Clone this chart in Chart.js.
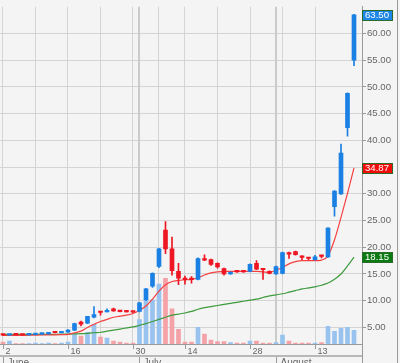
<!DOCTYPE html>
<html>
<head>
<meta charset="utf-8">
<script src="https://cdn.jsdelivr.net/npm/chart.js@4.4.0/dist/chart.umd.min.js"></script>
<style>
    html, body { margin: 0; padding: 0; background: #f4f4f4; }
    #wrap { width: 400px; height: 363px; }
</style>
</head>
<body>
<div id="wrap"><canvas id="stockChart" width="400" height="363"></canvas></div>
<script>
// day of month for each trading session
const dayOfMonth = [2, 3, 4, 5, 6, 9, 10, 11, 12, 13, 16, 17, 18, 19, 20, 23, 24, 25, 26, 27, 30,
    1, 2, 3, 7, 8, 9, 10, 14, 15, 16, 17, 18, 21, 22, 23, 24, 25, 28, 29, 30, 31,
    1, 4, 5, 6, 7, 8, 13, 14, 15, 18, 19, 20, 21];

// month labels and the session where each month starts
const monthNames = ['June', 'July', 'August'];
const monthStart = [0, 21, 42];

// weekly grid lines, labelled ticks every second week
const weekStart = [0, 5, 10, 15, 20, 24, 28, 33, 38, 43, 48];
const labelTicks = [0, 10, 20, 28, 38, 48];

// price axis ticks
const priceTicks = [5, 10, 15, 20, 25, 30, 35, 40, 45, 50, 55, 60];

// OHLC
const open = [3.6, 3.55, 3.65, 3.6, 3.6, 3.65, 3.75, 3.8, 4.1, 4.0,
    4.1, 4.5, 6.0, 5.8, 6.9, 8.0, 7.9, 8.5, 8.1, 8.0,
    7.95, 8.0, 10.2, 12.7, 16.4, 23.2, 19.7, 15.5, 14.2, 14.1,
    14.0, 17.8, 17.7, 17.0, 16.0, 15.0, 15.5, 15.5, 15.5, 17.0,
    15.9, 15.5, 15.0, 15.1, 19.0, 19.2, 18.3, 18.0, 17.7, 18.4,
    18.2, 27.6, 30.0, 42.4, 55.0];
const high = [3.7, 3.7, 3.7, 3.65, 3.7, 3.75, 3.8, 4.1, 4.15, 4.2,
    4.6, 5.8, 6.2, 7.1, 8.9, 8.0, 8.5, 8.6, 8.1, 8.0,
    7.95, 9.7, 12.3, 15.2, 19.8, 24.8, 21.9, 17.0, 14.6, 14.5,
    18.0, 18.6, 17.8, 17.1, 16.1, 15.4, 15.6, 15.6, 16.9, 17.5,
    16.0, 15.6, 16.5, 19.1, 19.1, 19.3, 18.4, 18.1, 18.5, 18.5,
    23.7, 30.6, 39.3, 48.9, 63.6];
const low = [3.5, 3.5, 3.55, 3.55, 3.55, 3.6, 3.7, 3.75, 3.95, 3.95,
    4.05, 4.4, 5.3, 5.7, 6.8, 7.3, 7.9, 8.0, 7.9, 7.85,
    7.8, 7.9, 10.0, 12.5, 16.2, 18.8, 14.8, 13.0, 13.1, 13.3,
    13.9, 17.5, 16.6, 16.1, 14.8, 14.9, 15.3, 15.3, 15.4, 15.8,
    14.0, 15.0, 14.9, 15.0, 17.9, 18.5, 17.7, 17.7, 17.6, 18.0,
    18.1, 25.8, 29.9, 40.8, 54.0];
const close = [3.55, 3.65, 3.6, 3.58, 3.65, 3.75, 3.8, 4.1, 4.0, 4.2,
    4.5, 5.7, 5.6, 7.1, 7.4, 7.8, 8.0, 8.1, 7.95, 7.9,
    7.85, 9.6, 12.2, 15.1, 19.7, 19.7, 15.6, 14.2, 13.95, 13.95,
    17.9, 17.6, 16.8, 16.3, 15.0, 15.3, 15.4, 15.4, 16.8, 15.9,
    15.8, 15.1, 16.4, 19.0, 18.7, 18.6, 18.1, 17.9, 18.2, 18.3,
    23.6, 30.5, 37.6, 48.8, 63.5];

// volume (millions)
const volume = [0.2, 0.3, 0.05, 0.05, 0.05, 0.1, 0.05, 0.1, 0.05, 0.1,
    0.2, 1.0, 0.8, 1.2, 2.0, 0.7, 0.6, 0.3, 0.2, 0.1,
    0.1, 2.5, 4.5, 4.5, 6.1, 6.7, 3.6, 1.5, 0.2, 0.2,
    1.7, 1.0, 0.4, 0.25, 0.25, 0.15, 0.1, 0.1, 0.3, 0.3,
    0.1, 0.1, 0.15, 0.9, 0.3, 0.1, 0.1, 0.1, 0.1, 0.15,
    1.8, 1.3, 1.6, 1.7, 1.4];

// moving averages
const maFast = [3.5, 3.5, 3.5, 3.52, 3.54, 3.56, 3.58, 3.6, 3.62, 3.65,
    3.7, 4.0, 4.3, 5.0, 5.6, 6.1, 6.5, 6.9, 7.1, 7.3,
    7.6, 8.2, 9.0, 10.3, 11.8, 13.0, 13.6, 13.8, 13.9, 14.0,
    14.3, 14.8, 15.2, 15.4, 15.5, 15.5, 15.5, 15.5, 15.5, 15.5,
    15.4, 15.3, 15.7, 16.2, 16.9, 17.3, 17.5, 17.5, 17.5, 17.6,
    18.4, 21.4, 25.6, 30.1, 34.87];
const maSlow = [3.7, 3.7, 3.7, 3.7, 3.7, 3.7, 3.7, 3.7, 3.72, 3.74,
    3.76, 3.8, 3.84, 3.9, 4.0, 4.1, 4.3, 4.5, 4.7, 4.9,
    5.1, 5.4, 5.7, 6.1, 6.5, 6.9, 7.3, 7.5, 7.7, 8.0,
    8.4, 8.7, 8.9, 9.1, 9.3, 9.5, 9.7, 9.9, 10.1, 10.3,
    10.6, 10.9, 11.1, 11.3, 11.6, 11.9, 12.2, 12.4, 12.6, 12.9,
    13.3, 14.0, 15.0, 16.5, 18.15];

const UP = '#1b80e4';
const DOWN = '#ee1622';
const VOL_UP = '#98c3ef';
const VOL_DOWN = '#f4a2a7';
const GRID = '#d4d4d4';
const AXIS = '#9a9a9a';
const TEXT = '#666666';
const FONT = 'Liberation Sans';

document.addEventListener('DOMContentLoaded', function() {
    initializeStockChart();
});

// extra axis decoration: month lines, day / month labels, value boxes
const decorPlugin = {
    id: 'decor',
    beforeDatasetsDraw(chart) {
        const ctx = chart.ctx;
        const xs = chart.scales.x;
        const area = chart.chartArea;
        ctx.save();
        ctx.strokeStyle = '#cbcbcb';
        ctx.lineWidth = 2;
        monthStart.slice(1).forEach(idx => {
            const px = Math.round(xs.getPixelForValue(idx));
            ctx.beginPath();
            ctx.moveTo(px, area.top);
            ctx.lineTo(px, area.bottom);
            ctx.stroke();
        });
        ctx.restore();
    },
    afterDraw(chart) {
        const ctx = chart.ctx;
        const xs = chart.scales.x;
        const ys = chart.scales.y;
        const area = chart.chartArea;
        ctx.save();

        // day ticks and labels
        ctx.strokeStyle = AXIS;
        ctx.lineWidth = 1;
        ctx.fillStyle = TEXT;
        ctx.font = '9px "' + FONT + '"';
        ctx.textAlign = 'left';
        ctx.textBaseline = 'middle';
        labelTicks.forEach(idx => {
            const px = Math.round(xs.getPixelForValue(idx)) + 0.5;
            ctx.beginPath();
            ctx.moveTo(px, area.bottom);
            ctx.lineTo(px, area.bottom + 5);
            ctx.stroke();
            ctx.fillText(String(dayOfMonth[idx]), px + 2, area.bottom + 8);
        });

        // separator between day row and month row
        ctx.strokeStyle = '#b8b8b8';
        ctx.lineWidth = 2;
        ctx.beginPath();
        ctx.moveTo(0, area.bottom + 12);
        ctx.lineTo(area.right, area.bottom + 12);
        ctx.stroke();

        // month ticks and labels
        ctx.strokeStyle = AXIS;
        ctx.lineWidth = 1;
        ctx.textBaseline = 'top';
        ctx.font = '10px "' + FONT + '"';
        monthStart.forEach((idx, i) => {
            const px = Math.round(xs.getPixelForValue(idx)) + 0.5;
            ctx.beginPath();
            ctx.moveTo(px, area.bottom + 13);
            ctx.lineTo(px, chart.height);
            ctx.stroke();
            ctx.fillText(monthNames[i], px + 4, area.bottom + 14);
        });

        // right axis frame
        ctx.strokeStyle = AXIS;
        ctx.beginPath();
        ctx.moveTo(area.right + 0.5, area.bottom);
        ctx.lineTo(area.right + 0.5, chart.height);
        ctx.moveTo(chart.width - 2.5, 0);
        ctx.lineTo(chart.width - 2.5, chart.height);
        ctx.stroke();

        // last value boxes
        const boxes = [
            [maSlow[maSlow.length - 1], '#0b7a12'],
            [maFast[maFast.length - 1], '#f20d0d'],
            [close[close.length - 1], '#1e86e6']
        ];
        ctx.font = '9.6px "' + FONT + '"';
        ctx.textBaseline = 'middle';
        boxes.forEach(([v, color]) => {
            const py = Math.round(ys.getPixelForValue(v));
            ctx.fillStyle = color;
            ctx.fillRect(area.right, py - 5, 31, 11);
            ctx.strokeStyle = '#2a6b2a';
            ctx.lineWidth = 1;
            ctx.strokeRect(area.right + 0.5, py - 4.5, 30, 10);
            ctx.fillStyle = '#ffffff';
            ctx.fillText(v.toFixed(2), area.right + 3, py + 0.5);
        });
        ctx.restore();
    }
};

function initializeStockChart() {
    const ctx = document.getElementById('stockChart');
    if (!ctx) return;

    const candleColors = close.map((c, i) => c >= open[i] ? UP : DOWN);
    const volumeColors = close.map((c, i) => c >= open[i] ? VOL_UP : VOL_DOWN);

    const bodies = open.map((o, i) => ({ x: i, y: [o, close[i]] }));
    const wicks = low.map((l, i) => ({ x: i, y: [l, high[i]] }));
    const volBars = volume.map((v, i) => ({ x: i, y: v }));
    const fastLine = maFast.map((v, i) => ({ x: i, y: v }));
    const slowLine = maSlow.map((v, i) => ({ x: i, y: v }));

    const config = {
        type: 'bar',
        data: {
            datasets: [{
                type: 'bar',
                label: 'Body',
                data: bodies,
                backgroundColor: candleColors,
                barThickness: 4,
                minBarLength: 1.5,
                grouped: false,
                yAxisID: 'y',
                order: 0
            }, {
                type: 'bar',
                label: 'Range',
                data: wicks,
                backgroundColor: candleColors,
                barThickness: 1,
                grouped: false,
                yAxisID: 'y',
                order: 1
            }, {
                type: 'line',
                label: 'MA fast',
                data: fastLine,
                borderColor: '#f5403f',
                borderWidth: 1.2,
                pointRadius: 0,
                tension: 0.4,
                cubicInterpolationMode: 'monotone',
                yAxisID: 'y',
                order: 2
            }, {
                type: 'line',
                label: 'MA slow',
                data: slowLine,
                borderColor: '#3d9a3d',
                borderWidth: 1.2,
                pointRadius: 0,
                tension: 0.4,
                cubicInterpolationMode: 'monotone',
                yAxisID: 'y',
                order: 3
            }, {
                type: 'bar',
                label: 'Volume',
                data: volBars,
                backgroundColor: volumeColors,
                barThickness: 4,
                grouped: false,
                yAxisID: 'yVol',
                order: 4
            }]
        },
        options: {
            responsive: false,
            animation: false,
            devicePixelRatio: 1,
            layout: { padding: 0 },
            plugins: {
                legend: { display: false },
                tooltip: { enabled: false }
            },
            scales: {
                x: {
                    type: 'linear',
                    min: -0.46,
                    max: 55.23,
                    offset: false,
                    grid: { color: GRID, offset: false, drawTicks: false },
                    border: { color: AXIS },
                    ticks: { display: false },
                    afterBuildTicks: scale => {
                        scale.ticks = weekStart.map(v => ({ value: v }));
                    },
                    afterFit: scale => {
                        scale.height = 19;
                    }
                },
                y: {
                    position: 'right',
                    min: 1.9,
                    max: 65,
                    grid: { color: GRID, tickLength: 4, tickColor: AXIS },
                    border: { color: AXIS },
                    ticks: {
                        color: TEXT,
                        padding: 1,
                        font: { family: FONT, size: 9.6 },
                        callback: v => Number(v).toFixed(2)
                    },
                    afterBuildTicks: scale => {
                        scale.ticks = priceTicks.map(v => ({ value: v }));
                    },
                    afterFit: scale => {
                        scale.width = 38;
                    }
                },
                yVol: {
                    display: false,
                    min: 0,
                    max: 34.4
                }
            }
        },
        plugins: [decorPlugin]
    };

    new Chart(ctx, config);
}
</script>
</body>
</html>
